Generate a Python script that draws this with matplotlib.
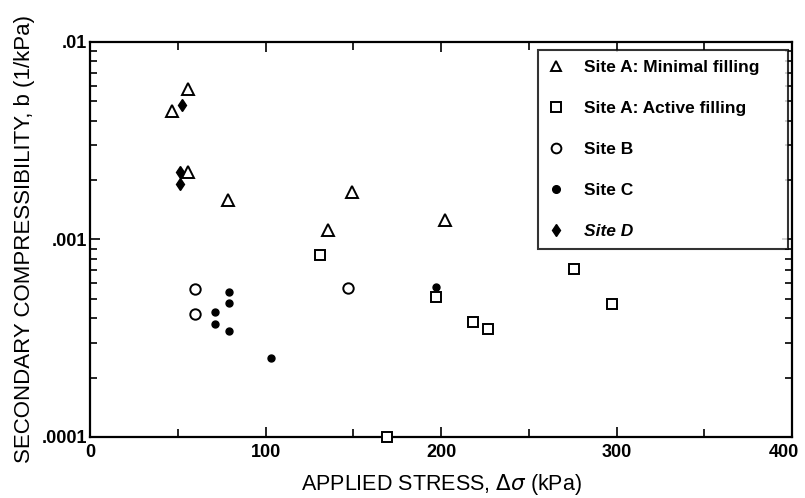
import matplotlib
matplotlib.use("Agg")
import matplotlib.pyplot as plt
from matplotlib.lines import Line2D
from matplotlib.ticker import FixedLocator, LogLocator, NullFormatter
from matplotlib.transforms import ScaledTranslation

plt.rcParams['font.family'] = ['Liberation Sans', 'DejaVu Sans']

# Site A: minimal filling (triangles)
a_min_x = [46.7, 55.8, 55.8, 78.6, 135.6, 149.0, 202.0]
a_min_y = [0.00448, 0.00578, 0.00220, 0.00158, 0.00112, 0.00174, 0.00126]

# Site A: active filling (squares)
a_act_x = [131.0, 169.0, 197.0, 218.0, 227.0, 276.0, 297.5]
a_act_y = [0.000835, 0.000100, 0.000512, 0.000382, 0.000352, 0.000710, 0.000471]

# Site B (open circles)
b_x = [59.8, 59.8, 147.0]
b_y = [0.00056, 0.00042, 0.00057]

# Site C (filled dots)
c_x = [79.0, 79.0, 71.2, 71.2, 79.0, 103.0, 197.0]
c_y = [0.000542, 0.000476, 0.000430, 0.000373, 0.000344, 0.000251, 0.000575]

# Site D (diamonds)
d_x = [52.4, 51.3, 51.3]
d_y = [0.0048, 0.0022, 0.0019]

legend_labels = ['Site A: Minimal filling', 'Site A: Active filling',
                 'Site B', 'Site C', 'Site D']

fig = plt.figure(figsize=(8.05, 4.98), dpi=100)
ax = fig.add_axes([0.1118, 0.1225, 0.8721, 0.7932])

ax.plot(a_min_x, a_min_y, ls='none', marker='^', ms=8.5, mfc='white', mec='black', mew=1.4, clip_on=False)
ax.plot(a_act_x, a_act_y, ls='none', marker='s', ms=7, mfc='white', mec='black', mew=1.4, clip_on=False, zorder=3)
ax.plot(b_x, b_y, ls='none', marker='o', ms=7.5, mfc='white', mec='black', mew=1.4)
ax.plot(c_x, c_y, ls='none', marker='o', ms=5, mfc='black', mec='black')
ax.plot(d_x, d_y, ls='none', marker='d', ms=6.5, mfc='black', mec='black')

ax.set_yscale('log')
ax.set_xlim(0, 400)
ax.set_ylim(0.0001, 0.01)

ax.set_xticks([0, 100, 200, 300, 400])
ax.set_xticklabels(['0', '100', '200', '300', '400'])
ax.xaxis.set_minor_locator(FixedLocator([50, 150, 250, 350]))
ax.set_yticks([0.0001, 0.001, 0.01])
ax.set_yticklabels(['.0001', '.001', '.01'])
ax.yaxis.set_minor_locator(LogLocator(base=10, subs=range(2, 10)))
ax.yaxis.set_minor_formatter(NullFormatter())

ax.tick_params(which='both', direction='in', top=True, right=True, width=1.2)
ax.tick_params(which='major', length=7, labelsize=13)
ax.tick_params(axis='y', which='major', pad=2)
ax.tick_params(axis='x', which='major', pad=5)
ax.tick_params(which='minor', length=5)
ax.tick_params(axis='x', which='minor', length=6)
for lab in ax.get_xticklabels() + ax.get_yticklabels():
    lab.set_fontweight('bold')
# keep the last x label inside the figure
last = ax.get_xticklabels()[-1]
last.set_transform(last.get_transform() + ScaledTranslation(-8 / 100, 0, fig.dpi_scale_trans))
for sp in ax.spines.values():
    sp.set_linewidth(1.6)

ax.set_xlabel(r'APPLIED STRESS, $\Delta\sigma$ (kPa)', fontsize=15.5, labelpad=8)
ax.set_ylabel('SECONDARY COMPRESSIBILITY, b (1/kPa)', fontsize=16, labelpad=5)

handles = [
    Line2D([], [], ls='none', marker='^', ms=7, mfc='white', mec='black', mew=1.4),
    Line2D([], [], ls='none', marker='s', ms=6.5, mfc='white', mec='black', mew=1.4),
    Line2D([], [], ls='none', marker='o', ms=7, mfc='white', mec='black', mew=1.4),
    Line2D([], [], ls='none', marker='o', ms=5.5, mfc='black', mec='black'),
    Line2D([], [], ls='none', marker='d', ms=6.5, mfc='black', mec='black'),
]
leg = ax.legend(handles, legend_labels, loc='upper left',
                bbox_to_anchor=(0.638, 0.46, 0.356, 0.52), mode='expand',
                borderaxespad=0, frameon=True, fancybox=False, labelspacing=1.5,
                handletextpad=1.1, handlelength=1.0, borderpad=0.55,
                prop={'size': 12.5, 'weight': 'bold'})
leg.get_frame().set_edgecolor('black')
leg.get_frame().set_linewidth(1.5)
leg.get_texts()[-1].set_style('italic')

fig.savefig('out.png', dpi=100)
